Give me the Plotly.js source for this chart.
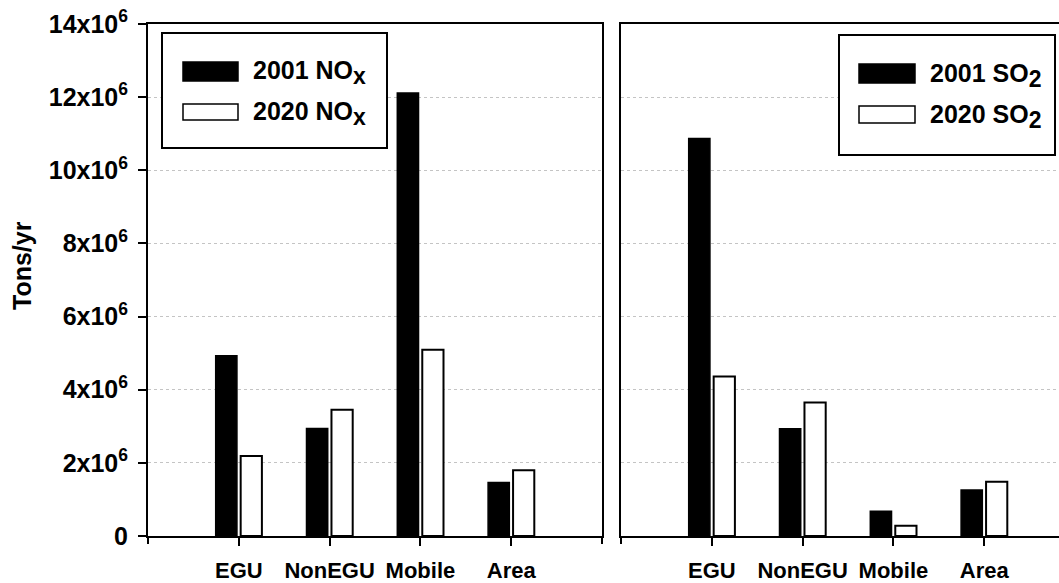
<!DOCTYPE html>
<html>
<head>
<meta charset="utf-8">
<script src="https://cdn.plot.ly/plotly-3.0.1.min.js"></script>
<style>
html,body{margin:0;padding:0;overflow:hidden;background:#fff;}
#chart{width:1080px;height:583px;}
</style>
</head>
<body>
<div id="chart"></div>
<script>
// ---- data ----
const categories = ['EGU', 'NonEGU', 'Mobile', 'Area'];
const nox2001 = [4.93e6, 2.94e6, 12.11e6, 1.46e6];
const nox2020 = [2.19e6, 3.45e6, 5.09e6, 1.80e6];
const so2_2001 = [10.87e6, 2.93e6, 0.68e6, 1.26e6];
const so2_2020 = [4.36e6, 3.65e6, 0.28e6, 1.48e6];
const yTickVals = [0, 2e6, 4e6, 6e6, 8e6, 10e6, 12e6, 14e6];
const yTickText = ['0', '2x10<sup>6</sup>', '4x10<sup>6</sup>', '6x10<sup>6</sup>', '8x10<sup>6</sup>', '10x10<sup>6</sup>', '12x10<sup>6</sup>', '14x10<sup>6</sup>'];
const yTitle = 'Tons/yr';
const legendLeft = ['2001 NO<sub><span style="font-size:23px">x</span></sub>', '2020 NO<sub><span style="font-size:23px">x</span></sub>'];
const legendRight = ['2001 SO<sub><span style="font-size:23px">2</span></sub>', '2020 SO<sub><span style="font-size:23px">2</span></sub>'];

// ---- geometry helpers (pixel -> paper) ----
const W = 1080, H = 583;
const px = x => x / W;
const py = y => (H - y) / H;

const FONT = 'Arial, "Liberation Sans", Helvetica, sans-serif';

const blackBar = {color: '#000', line: {color: '#000', width: 1.5}};
const whiteBar = {color: '#fff', line: {color: '#000', width: 2}};

const traces = [
  {type: 'bar', x: categories, y: nox2001, marker: blackBar, xaxis: 'x', yaxis: 'y', showlegend: false},
  {type: 'bar', x: categories, y: nox2020, marker: whiteBar, xaxis: 'x', yaxis: 'y', showlegend: false},
  {type: 'bar', x: categories, y: so2_2001, marker: blackBar, xaxis: 'x2', yaxis: 'y2', showlegend: false},
  {type: 'bar', x: categories, y: so2_2020, marker: whiteBar, xaxis: 'x2', yaxis: 'y2', showlegend: false}
];

const yDomain = [py(536), py(24)];

const xCommon = {
  type: 'category', categoryorder: 'array', categoryarray: categories,
  range: [-1, 4], showline: true, mirror: true, linecolor: '#000', linewidth: 2,
  ticks: 'outside', ticklen: 8, tickwidth: 2, tickcolor: '#000',
  tickfont: {family: FONT, size: 22, color: '#000', weight: 'bold'},
  ticklabelstandoff: 6, showgrid: false, zeroline: false, automargin: false, fixedrange: true
};
const yCommon = {
  range: [0, 14e6], domain: yDomain, showline: true, mirror: true, linecolor: '#000', linewidth: 2,
  showgrid: true, gridcolor: '#c4c4c4', gridwidth: 1, griddash: 'dot',
  zeroline: false, automargin: false, fixedrange: true,
  tickmode: 'array', tickvals: yTickVals
};

const layout = {
  width: W, height: H,
  margin: {l: 0, r: 0, t: 0, b: 0},
  paper_bgcolor: '#fff', plot_bgcolor: '#fff',
  barmode: 'group', bargap: 0.45, bargroupgap: 0.15,
  font: {family: FONT, color: '#000'},
  xaxis: Object.assign({}, xCommon, {domain: [px(148), px(602)], anchor: 'y'}),
  xaxis2: Object.assign({}, xCommon, {domain: [px(621), px(1075)], anchor: 'y2'}),
  yaxis: Object.assign({}, yCommon, {
    anchor: 'x', ticktext: yTickText, ticks: 'outside', ticklen: 8, tickwidth: 2, tickcolor: '#000',
    tickfont: {family: FONT, size: 25, color: '#000', weight: 'bold'}, ticklabelstandoff: 5
  }),
  yaxis2: Object.assign({}, yCommon, {anchor: 'x2', showticklabels: false, ticks: ''}),
  shapes: [
    // frame extensions below the baseline
    {type: 'line', xref: 'x domain', yref: 'y domain', x0: 0, x1: 0, y0: 0, y1: -8 / 512, line: {color: '#000', width: 2}},
    {type: 'line', xref: 'x domain', yref: 'y domain', x0: 1, x1: 1, y0: 0, y1: -8 / 512, line: {color: '#000', width: 2}},
    {type: 'line', xref: 'x2 domain', yref: 'y2 domain', x0: 0, x1: 0, y0: 0, y1: -8 / 512, line: {color: '#000', width: 2}},
    // left legend
    {type: 'rect', xref: 'paper', yref: 'paper', x0: px(162), x1: px(387), y0: py(148), y1: py(33), fillcolor: '#fff', line: {color: '#000', width: 2}},
    {type: 'rect', xref: 'paper', yref: 'paper', x0: px(183), x1: px(238), y0: py(81), y1: py(62), fillcolor: '#000', line: {color: '#000', width: 1.5}},
    {type: 'rect', xref: 'paper', yref: 'paper', x0: px(183), x1: px(238), y0: py(120), y1: py(104), fillcolor: '#fff', line: {color: '#000', width: 1.5}},
    // right legend
    {type: 'rect', xref: 'paper', yref: 'paper', x0: px(839), x1: px(1055), y0: py(155), y1: py(35), fillcolor: '#fff', line: {color: '#000', width: 2}},
    {type: 'rect', xref: 'paper', yref: 'paper', x0: px(859), x1: px(915), y0: py(83), y1: py(64), fillcolor: '#000', line: {color: '#000', width: 1.5}},
    {type: 'rect', xref: 'paper', yref: 'paper', x0: px(859), x1: px(915), y0: py(123), y1: py(106), fillcolor: '#fff', line: {color: '#000', width: 1.5}}
  ],
  annotations: [
    {xref: 'paper', yref: 'paper', x: px(22), y: py(266), xanchor: 'center', yanchor: 'middle', textangle: -90, showarrow: false, text: yTitle, font: {family: FONT, size: 25, color: '#000', weight: 'bold'}},
    {xref: 'paper', yref: 'paper', x: px(251), y: py(73), xanchor: 'left', yanchor: 'middle', showarrow: false, text: legendLeft[0], font: {family: FONT, size: 25, color: '#000', weight: 'bold'}},
    {xref: 'paper', yref: 'paper', x: px(251), y: py(114), xanchor: 'left', yanchor: 'middle', showarrow: false, text: legendLeft[1], font: {family: FONT, size: 25, color: '#000', weight: 'bold'}},
    {xref: 'paper', yref: 'paper', x: px(928), y: py(75), xanchor: 'left', yanchor: 'middle', showarrow: false, text: legendRight[0], font: {family: FONT, size: 25, color: '#000', weight: 'bold'}},
    {xref: 'paper', yref: 'paper', x: px(928), y: py(117), xanchor: 'left', yanchor: 'middle', showarrow: false, text: legendRight[1], font: {family: FONT, size: 25, color: '#000', weight: 'bold'}}
  ]
};

Plotly.newPlot('chart', traces, layout, {displayModeBar: false, staticPlot: true});
</script>
</body>
</html>
